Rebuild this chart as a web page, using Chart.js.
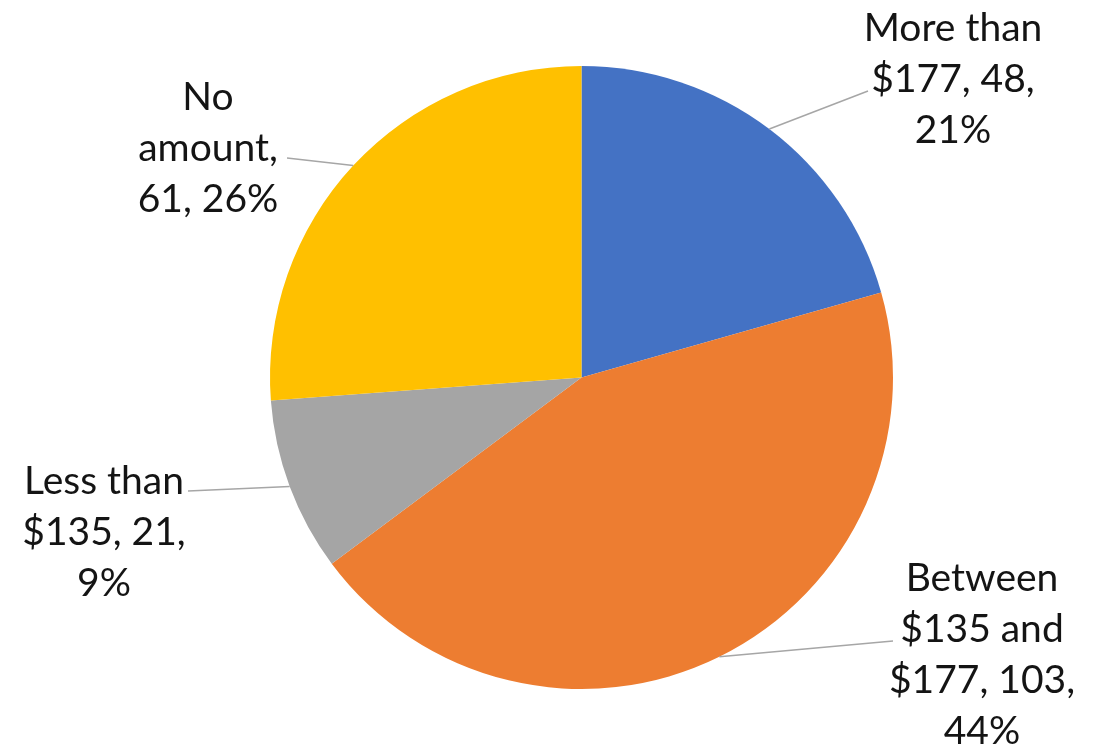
<!DOCTYPE html>
<html>
<head>
<meta charset="utf-8">
<script src="https://cdn.jsdelivr.net/npm/chart.js@4/dist/chart.umd.min.js"></script>
<style>
  html, body { margin: 0; padding: 0; background: #fff; }
  #wrap { width: 1096px; height: 746px; position: relative; }
</style>
</head>
<body>
<div id="wrap"><canvas id="pie" width="1096" height="746"></canvas></div>
<script>
const categories = ["More than $177", "Between $135 and $177", "Less than $135", "No amount"];
const counts = [48, 103, 21, 61];
const colors = ["#4472C4", "#ED7D31", "#A5A5A5", "#FFC000"];
// words per line for each data label
const labelBreaks = [[2, 2, 1], [1, 2, 2, 1], [2, 2, 1], [1, 1, 2]];
// label block centre x, first line centre y, and where the leader meets the text
const labelPos = [
  { x: 953, y: 28, lx: 868, ly: 91 },
  { x: 982, y: 578, lx: 893, ly: 641 },
  { x: 104, y: 481, lx: 188, ly: 491 },
  { x: 208, y: 97, lx: 287, ly: 158 },
];

const total = counts.reduce((a, b) => a + b, 0);
const percents = counts.map((v) => Math.round((v / total) * 100));

function labelLines(i) {
  const words = `${categories[i]}, ${counts[i]}, ${percents[i]}%`.split(" ");
  const out = [];
  let k = 0;
  labelBreaks[i].forEach((n) => {
    out.push(words.slice(k, k + n).join(" "));
    k += n;
  });
  return out;
}

const dataLabels = {
  id: "dataLabels",
  afterDatasetsDraw(chart) {
    const ctx = chart.ctx;
    const meta = chart.getDatasetMeta(0);
    ctx.save();
    meta.data.forEach((arc, i) => {
      const p = arc.getProps(["x", "y", "startAngle", "endAngle", "outerRadius"], true);
      const mid = (p.startAngle + p.endAngle) / 2;
      const ex = p.x + Math.cos(mid) * p.outerRadius;
      const ey = p.y + Math.sin(mid) * p.outerRadius;
      const pos = labelPos[i];
      ctx.strokeStyle = "#a6a6a6";
      ctx.lineWidth = 1.5;
      ctx.beginPath();
      ctx.moveTo(ex, ey);
      ctx.lineTo(pos.lx, pos.ly);
      ctx.stroke();

      ctx.fillStyle = "#141414";
      ctx.font = "39px Lato, 'Open Sans', sans-serif";
      ctx.textAlign = "center";
      ctx.textBaseline = "middle";
      labelLines(i).forEach((line, j) => ctx.fillText(line, pos.x, pos.y + j * 51));
    });
    ctx.restore();
  },
};

new Chart(document.getElementById("pie"), {
  type: "pie",
  data: {
    labels: categories,
    datasets: [{ data: counts, backgroundColor: colors, borderWidth: 0 }],
  },
  options: {
    responsive: false,
    animation: false,
    devicePixelRatio: 1,
    layout: { padding: { left: 270, right: 203, top: 65, bottom: 56 } },
    plugins: { legend: { display: false }, tooltip: { enabled: false } },
  },
  plugins: [dataLabels],
});
</script>
</body>
</html>
